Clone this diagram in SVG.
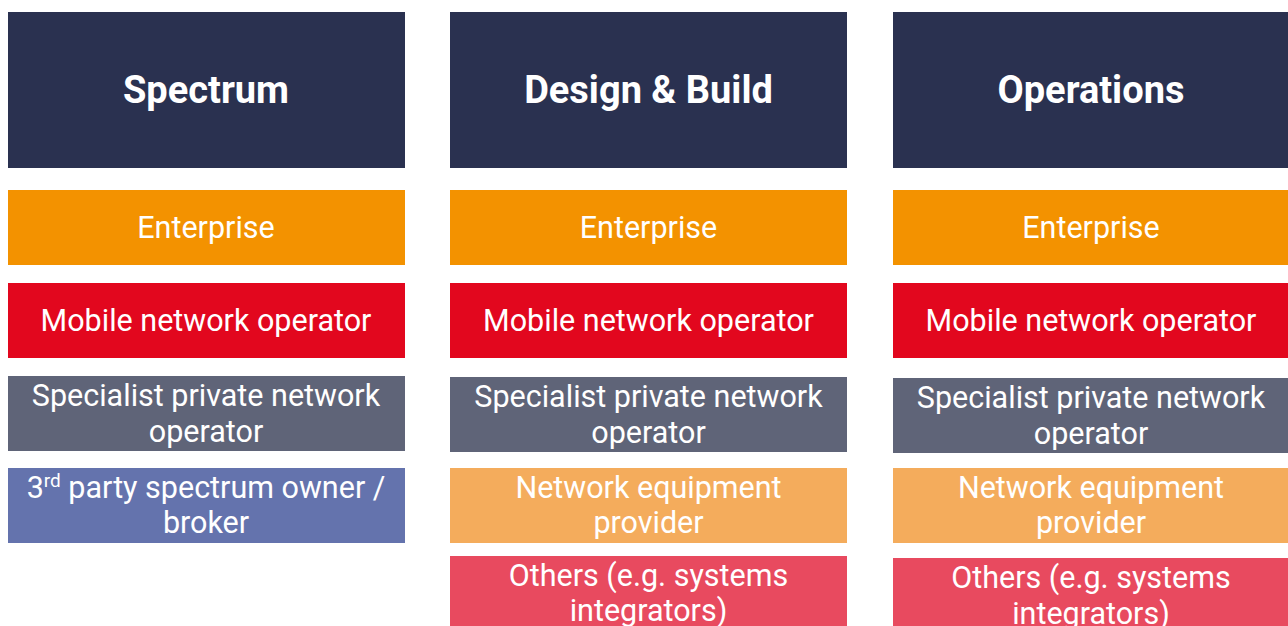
<svg xmlns="http://www.w3.org/2000/svg" width="1288" height="626" viewBox="0 0 1288 626">
  <style>
    .hdr { fill: #2A3150; }
    .ent { fill: #F39200; }
    .mno { fill: #E2071E; }
    .spn { fill: #5F6478; }
    .brk { fill: #6473AD; }
    .nep { fill: #F4AC5C; }
    .oth { fill: #E84A5F; }
    text { font-family: Roboto, "Liberation Sans", sans-serif; fill: #FFFFFF; text-anchor: middle; }
    .h { font-size: 38px; font-weight: bold; }
    .b { font-size: 30.5px; }
  </style>
  <rect width="1288" height="626" fill="#FFFFFF"/>

  <!-- Column 1: Spectrum -->
  <g id="spectrum-header"><rect class="hdr" x="8" y="12" width="397" height="156"/><text class="h" x="206" y="103">Spectrum</text></g>
  <g id="spectrum-enterprise"><rect class="ent" x="8" y="190" width="397" height="75"/><text class="b" x="206" y="238">Enterprise</text></g>
  <g id="spectrum-mno"><rect class="mno" x="8" y="283" width="397" height="75"/><text class="b" x="206" y="331">Mobile network operator</text></g>
  <g id="spectrum-spno"><rect class="spn" x="8" y="376" width="397" height="75"/><text class="b" x="206" y="406">Specialist private network</text><text class="b" x="206" y="442">operator</text></g>
  <g id="spectrum-broker"><rect class="brk" x="8" y="468" width="397" height="75"/><text class="b" x="206" y="498">3<tspan font-size="19" dy="-11">rd</tspan><tspan dy="11"> party spectrum owner /</tspan></text><text class="b" x="206" y="533">broker</text></g>

  <!-- Column 2: Design & Build -->
  <g id="build-header"><rect class="hdr" x="450" y="12" width="397" height="156"/><text class="h" x="648.5" y="103">Design &amp; Build</text></g>
  <g id="build-enterprise"><rect class="ent" x="450" y="190" width="397" height="75"/><text class="b" x="648.5" y="238">Enterprise</text></g>
  <g id="build-mno"><rect class="mno" x="450" y="283" width="397" height="75"/><text class="b" x="648.5" y="331">Mobile network operator</text></g>
  <g id="build-spno"><rect class="spn" x="450" y="377" width="397" height="75"/><text class="b" x="648.5" y="407">Specialist private network</text><text class="b" x="648.5" y="443">operator</text></g>
  <g id="build-nep"><rect class="nep" x="450" y="468" width="397" height="75"/><text class="b" x="648.5" y="498">Network equipment</text><text class="b" x="648.5" y="533">provider</text></g>
  <g id="build-others"><rect class="oth" x="450" y="556" width="397" height="75"/><text class="b" x="648.5" y="586">Others (e.g. systems</text><text class="b" x="648.5" y="621">integrators)</text></g>

  <!-- Column 3: Operations -->
  <g id="ops-header"><rect class="hdr" x="893" y="12" width="395" height="156"/><text class="h" x="1091" y="103">Operations</text></g>
  <g id="ops-enterprise"><rect class="ent" x="893" y="190" width="395" height="75"/><text class="b" x="1091" y="238">Enterprise</text></g>
  <g id="ops-mno"><rect class="mno" x="893" y="283" width="395" height="75"/><text class="b" x="1091" y="331">Mobile network operator</text></g>
  <g id="ops-spno"><rect class="spn" x="893" y="378" width="395" height="75"/><text class="b" x="1091" y="408">Specialist private network</text><text class="b" x="1091" y="444">operator</text></g>
  <g id="ops-nep"><rect class="nep" x="893" y="468" width="395" height="75"/><text class="b" x="1091" y="498">Network equipment</text><text class="b" x="1091" y="533">provider</text></g>
  <g id="ops-others"><rect class="oth" x="893" y="558" width="395" height="75"/><text class="b" x="1091" y="588">Others (e.g. systems</text><text class="b" x="1091" y="624">integrators)</text></g>

  <g id="connectors"/>
</svg>
